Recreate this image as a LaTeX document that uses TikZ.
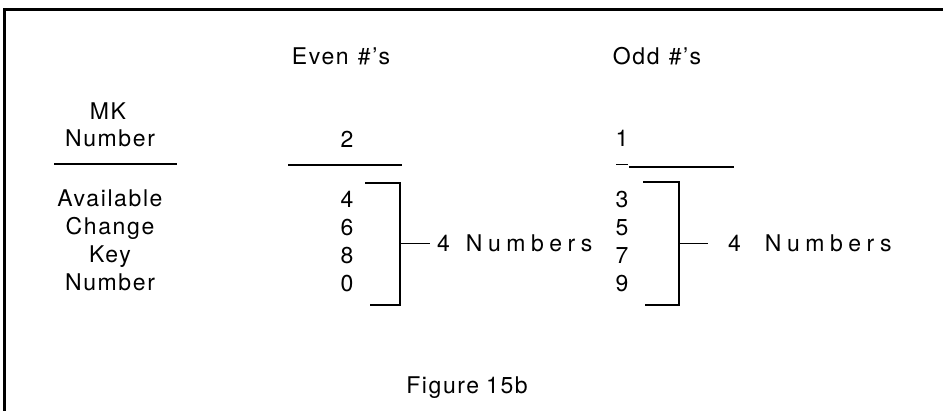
\documentclass[tikz,border=0pt]{standalone}
\usepackage{fontspec}
\setmainfont[LetterSpace=7]{TeX Gyre Heros}
\newfontfamily\widefont[LetterSpace=24]{TeX Gyre Heros}
\usetikzlibrary{positioning}

\begin{document}
\begin{tikzpicture}[x=1pt, y=-1pt,
    lbl/.style={inner sep=0pt, anchor=base, font=\fontsize{23}{27}\selectfont},
    rule/.style={line width=2pt},
    brk/.style={line width=1.2pt}]
    \useasboundingbox (0, 0) rectangle (943, 411);
    % frame
    \draw[line width=3pt] (4.5, 411) -- (4.5, 9.5) -- (943, 9.5);
    % headings
    \node[lbl] (evenhead) at (341, 65) {Even\hspace{0.4em}\#'s};
    \node[lbl] (oddhead) at (657, 65) {Odd\hspace{0.4em}\#'s};
    \node[lbl] (mk) at (108, 120) {MK};
    \node[lbl] (mknum) at (110, 147) {Number};
    \node[lbl] (evenmk) at (347, 148) {2};
    \node[lbl] (oddmk) at (622, 147) {1};
    \draw[rule] (54, 164) -- (177, 164);
    \draw[rule] (288, 165) -- (402, 165);
    \draw[line width=1pt] (616, 165) -- (628, 165);
    \draw[rule] (629, 167) -- (734, 167);
    % left column
    \node[lbl] (avail) at (110, 207) {Available};
    \node[lbl] (change) at (110, 235) {Change};
    \node[lbl] (key) at (110, 263) {Key};
    \node[lbl] (keynum) at (110, 291) {Number};
    % even column
    \node[lbl] (e4) at (347, 208) {4};
    \node[lbl] (e6) at (347, 236) {6};
    \node[lbl] (e8) at (347, 264) {8};
    \node[lbl] (e0) at (347, 292) {0};
    % odd column
    \node[lbl] (o3) at (622, 208) {3};
    \node[lbl] (o5) at (622, 236) {5};
    \node[lbl] (o7) at (622, 264) {7};
    \node[lbl] (o9) at (622, 292) {9};
    % counts
    \node[lbl, anchor=base west] (evencount) at (437, 252) {{\widefont 4\hspace{16pt}Numbers}};
    \node[lbl, anchor=base west] (oddcount) at (728, 252) {{\widefont 4\hspace{24pt}Numbers}};
    % brackets
    \coordinate (evtop) at (400, 183);
    \coordinate (evbot) at (400, 305);
    \coordinate (odtop) at (679, 182);
    \coordinate (odbot) at (679, 305);
    \draw[brk] (365, 183) -- (evtop) -- (evbot) -- (370, 305);
    \draw[brk] (643, 182) -- (odtop) -- (odbot) -- (645, 305);
    \draw[brk] (evtop |- evencount.west) -- ([xshift=-7pt]evencount.west);
    \draw[brk] (odtop |- oddcount.west) -- ([xshift=-20pt]oddcount.west);
    % caption
    \node[lbl] (caption) at (467, 394) {Figure\hspace{0.3em}15b};
\end{tikzpicture}
\end{document}
